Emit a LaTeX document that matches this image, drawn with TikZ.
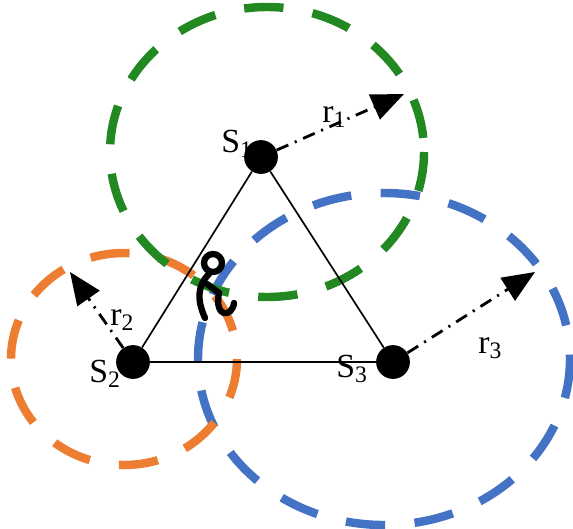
\documentclass[tikz,border=0pt]{standalone}
\usepackage{fontspec}
\setmainfont{Liberation Serif}
\usetikzlibrary{arrows.meta, positioning}
\definecolor{zonegreen}{RGB}{34,136,34}
\definecolor{zoneorange}{RGB}{237,125,49}
\definecolor{zoneblue}{RGB}{68,114,196}
\tikzset{
    sensor/.style={circle, fill, inner sep=0pt, minimum size=24pt},
    zone/.style={line width=6pt, dash pattern=on 28pt off 21pt},
    reach/.style={line width=2pt, dash pattern=on 9pt off 5pt on 1.5pt off 5pt, -{Triangle[length=23pt, width=19pt]}},
    tag/.style={anchor=base west, inner sep=0pt, font=\fontsize{24}{28}\selectfont},
    walker/.style={line width=4.5pt, line cap=round}
}

\begin{document}
\begin{tikzpicture}[x=0.025cm, y=-0.025cm]
            \useasboundingbox (0, 0) rectangle (573, 528);

            \draw[zone, zoneblue] (384, 359) ellipse [x radius=186, y radius=166];
            \draw[zone, zoneorange] (124, 359) ellipse [x radius=113, y radius=106];
            \draw[zone, zonegreen] (267, 152) ellipse [x radius=157, y radius=145];

            \node[tag] (l1) at (221, 152) {S\textsubscript{1}};
            \node[tag] (l2) at (89, 382) {S\textsubscript{2}};
            \node[tag] (l3) at (336, 377) {S\textsubscript{3}};

            \node[sensor] (s1) at (261, 157) {};
            \node[sensor] (s2) at (133, 362) {};
            \node[sensor] (s3) at (393, 362) {};

            \coordinate (t1) at (404, 94);
            \coordinate (t2) at (70, 272);
            \coordinate (t3) at (535, 272);

            \draw[line width=1.2pt] (s1) -- (s2);
            \draw[line width=1.2pt] (s2) -- (s3);
            \draw[line width=1.2pt] (s3) -- (s1);

            \draw[reach] (s1) -- (t1);
            \draw[reach] (s2) -- (t2);
            \draw[reach] (s3) -- (t3);

            \node[tag] (r1) at (322, 122) {r\textsubscript{1}};
            \node[tag] (r2) at (110, 325) {r\textsubscript{2}};
            \node[tag] (r3) at (478, 353) {r\textsubscript{3}};

            \draw[walker] (213, 263) circle [radius=9];
            \draw[walker] (209, 274) .. controls (197, 286) and (197, 300) .. (205, 318);
            \draw[walker] (207, 284) -- (219, 293) .. controls (214, 318) and (232, 318) .. (234, 303);
\end{tikzpicture}
\end{document}
